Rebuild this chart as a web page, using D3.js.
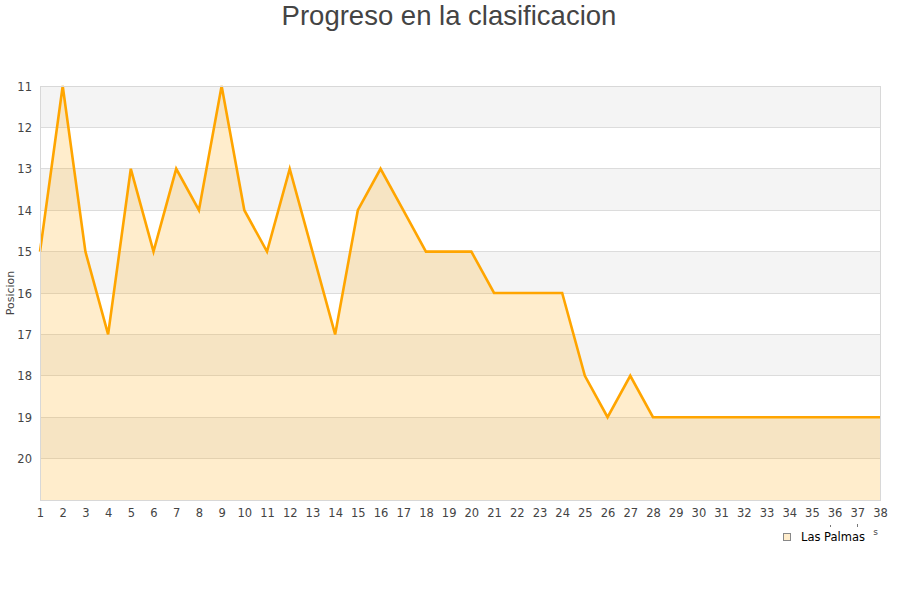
<!DOCTYPE html>
<html><head><meta charset="utf-8">
<script src="https://cdn.jsdelivr.net/npm/d3@7"></script>
<style>body{margin:0;background:#fff}svg{display:block}</style>
</head><body>
<svg id="c" width="900" height="600"></svg>
<script>
const jornadas = d3.range(1, 39);
const posiciones = [15,11,15,17,13,15,13,14,11,14,15,13,15,17,14,13,14,15,15,15,16,16,16,16,18,19,18,19,19,19,19,19,19,19,19,19,19,19];
const yTicks = [11,12,13,14,15,16,17,18,19,20];
const seriesName = "Las Palmas";
const titleText = "Progreso en la clasificacion";
const yTitle = "Posicion";
const xTitleFragment = "s";

const svg = d3.select("#c");
const L = 40, R = 880, T = 86, B = 500;
const x = d3.scaleLinear().domain([1, 38]).range([L, R]);
const y = d3.scaleLinear().domain([11, 21]).range([T, B]);
const font = "'DejaVu Sans', sans-serif";

svg.append("text").attr("x", 449).attr("y", 25).attr("text-anchor", "middle")
  .attr("font-family", "'Liberation Sans', Arial, sans-serif").attr("font-size", 27.5).attr("fill", "#444")
  .text(titleText);

// alternating bands
const bands = d3.range(11, 21);
svg.append("g").selectAll("rect").data(bands).join("rect")
  .attr("x", L).attr("width", R - L)
  .attr("y", d => y(d)).attr("height", d => y(d + 1) - y(d))
  .attr("fill", (d, i) => i % 2 === 0 ? "#f4f4f4" : "#ffffff");

// grid
svg.append("g").selectAll("line").data(d3.range(12, 21)).join("line")
  .attr("x1", L).attr("x2", R).attr("y1", d => y(d)).attr("y2", d => y(d))
  .attr("stroke", "#dcdcdc").attr("stroke-width", 1).attr("shape-rendering", "crispEdges");

// area
const area = d3.area().x((d, i) => x(jornadas[i])).y0(y(21)).y1(d => y(d));
svg.append("path").datum(posiciones).attr("d", area).attr("fill", "rgba(255,165,0,0.2)");
const line = d3.line().x((d, i) => x(jornadas[i])).y(d => y(d));
svg.append("path").datum(posiciones).attr("d", line).attr("fill", "none")
  .attr("stroke", "#ffa500").attr("stroke-width", 2.6).attr("stroke-linejoin", "miter");

// plot border
svg.append("rect").attr("x", L).attr("y", T).attr("width", R - L).attr("height", B - T)
  .attr("fill", "none").attr("stroke", "#d8d8d8").attr("stroke-width", 1).attr("shape-rendering", "crispEdges");

// y axis
const ya = svg.append("g").attr("transform", `translate(${L - 8},0)`)
  .call(d3.axisLeft(y).tickValues(yTicks).tickSize(0).tickPadding(0));
ya.select(".domain").remove();
ya.selectAll("text").attr("font-family", font).attr("font-size", 11.5).attr("fill", "#444").attr("dy", "0.35em");

svg.append("text").attr("transform", `translate(14,${(T + B) / 2}) rotate(-90)`)
  .attr("text-anchor", "middle").attr("font-family", font).attr("font-size", 11).attr("fill", "#444")
  .text(yTitle);

// x axis
const xa = svg.append("g").attr("transform", `translate(0,${B + 9})`)
  .call(d3.axisBottom(x).tickValues(jornadas).tickFormat(d3.format("d")).tickSize(0).tickPadding(0));
xa.select(".domain").remove();
xa.selectAll("text").attr("font-family", font).attr("font-size", 11.5).attr("fill", "#444");

// fragments of the hidden x title
svg.append("text").attr("x", 875.5).attr("y", 535).attr("text-anchor", "middle")
  .attr("font-family", font).attr("font-size", 9).attr("fill", "#444").text(xTitleFragment);
svg.append("rect").attr("x", 830).attr("y", 525).attr("width", 1).attr("height", 2).attr("fill", "#777");
svg.append("rect").attr("x", 857).attr("y", 524).attr("width", 1).attr("height", 3).attr("fill", "#777");

// legend
const lg = svg.append("g");
lg.append("rect").attr("x", 783.5).attr("y", 533.5).attr("width", 7).attr("height", 7)
  .attr("fill", "#ffedcc").attr("stroke", "#888").attr("stroke-width", 1);
lg.append("text").attr("x", 801).attr("y", 541).attr("font-family", font).attr("font-size", 11.5)
  .attr("fill", "#000").text(seriesName);
</script>
</body></html>
